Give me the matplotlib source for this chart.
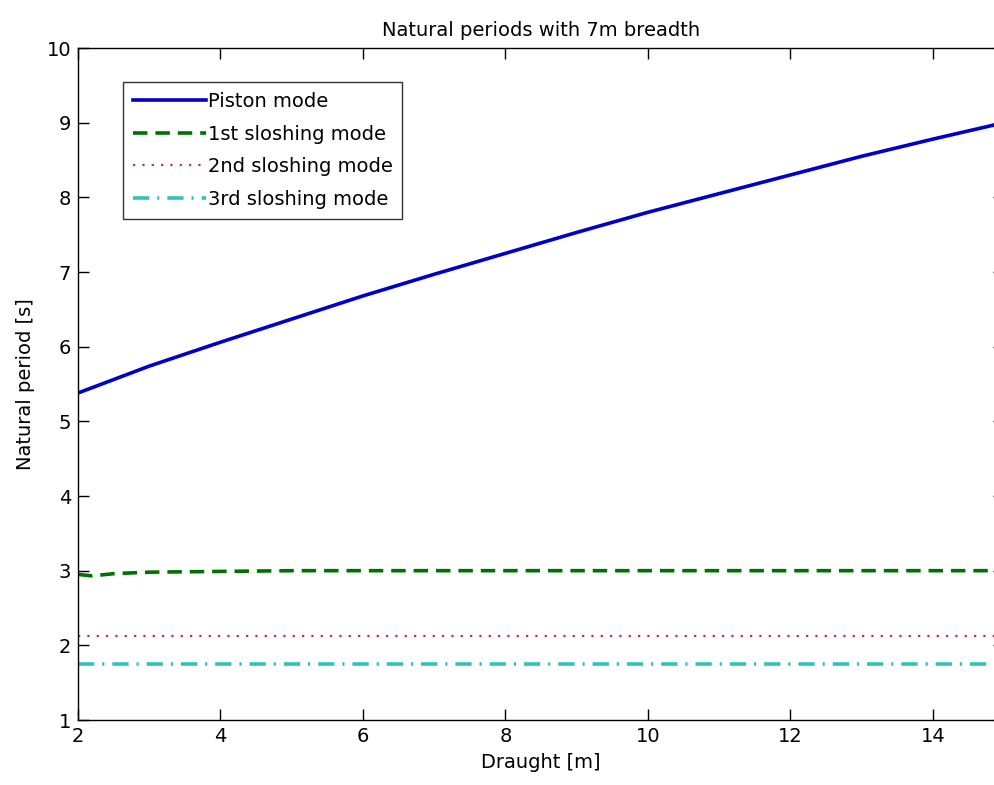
import numpy as np
import matplotlib.pyplot as plt

plt.rcParams['font.family'] = ['DejaVu Sans']

# data
draught = [2, 3, 4, 5, 6, 7, 8, 9, 10, 11, 12, 13, 14, 15]
piston = [5.38, 5.74, 6.06, 6.37, 6.68, 6.97, 7.25, 7.53, 7.80, 8.05, 8.30, 8.55, 8.78, 9.00]

draught_s1 = [2.0, 2.2, 2.5, 3.0, 4.0, 5.0, 15.0]
slosh1 = [2.95, 2.93, 2.96, 2.98, 2.99, 3.0, 3.0]

draught_s = [2, 15]
slosh2 = [2.125, 2.125]
slosh3 = [1.75, 1.75]

fig = plt.figure(figsize=(9.94, 7.85), dpi=100)
ax = fig.add_axes([0.0785, 0.0828, 0.9316, 0.856])

ax.plot(draught, piston, color='#0000CC', lw=2.6, label='Piston mode')
ax.plot(draught_s1, slosh1, color='#007000', lw=2.6, ls=(0, (4, 2.2)), label='1st sloshing mode')
ax.plot(draught_s, slosh2, color='#C0304A', lw=1.6, ls=(0, (1, 3.2)), label='2nd sloshing mode')
ax.plot(draught_s, slosh3, color='#2EC4B6', lw=2.6, ls=(0, (4.5, 2.2, 0.6, 2.2)), label='3rd sloshing mode')

ax.set_xlim(2, 15)
ax.set_ylim(1, 10)
ax.set_xticks([2, 4, 6, 8, 10, 12, 14])
ax.set_yticks(range(1, 11))
ax.tick_params(direction='in', length=8, width=1, top=True, right=True, labelsize=14, pad=5)
for s in ax.spines.values():
    s.set_linewidth(1)

ax.set_title('Natural periods with 7m breadth', fontsize=14, pad=9)
ax.set_xlabel('Draught [m]', fontsize=14, labelpad=5)
ax.set_ylabel('Natural period [s]', fontsize=14, labelpad=8)

leg = ax.legend(loc='upper left', bbox_to_anchor=(0.0486, 0.949), fontsize=14,
                handlelength=3.75, handletextpad=0.1, labelspacing=0.7,
                frameon=True, fancybox=False, borderpad=0.5, borderaxespad=0)
leg.get_frame().set_edgecolor('black')
leg.get_frame().set_linewidth(1)

fig.savefig('out.png', dpi=100)
